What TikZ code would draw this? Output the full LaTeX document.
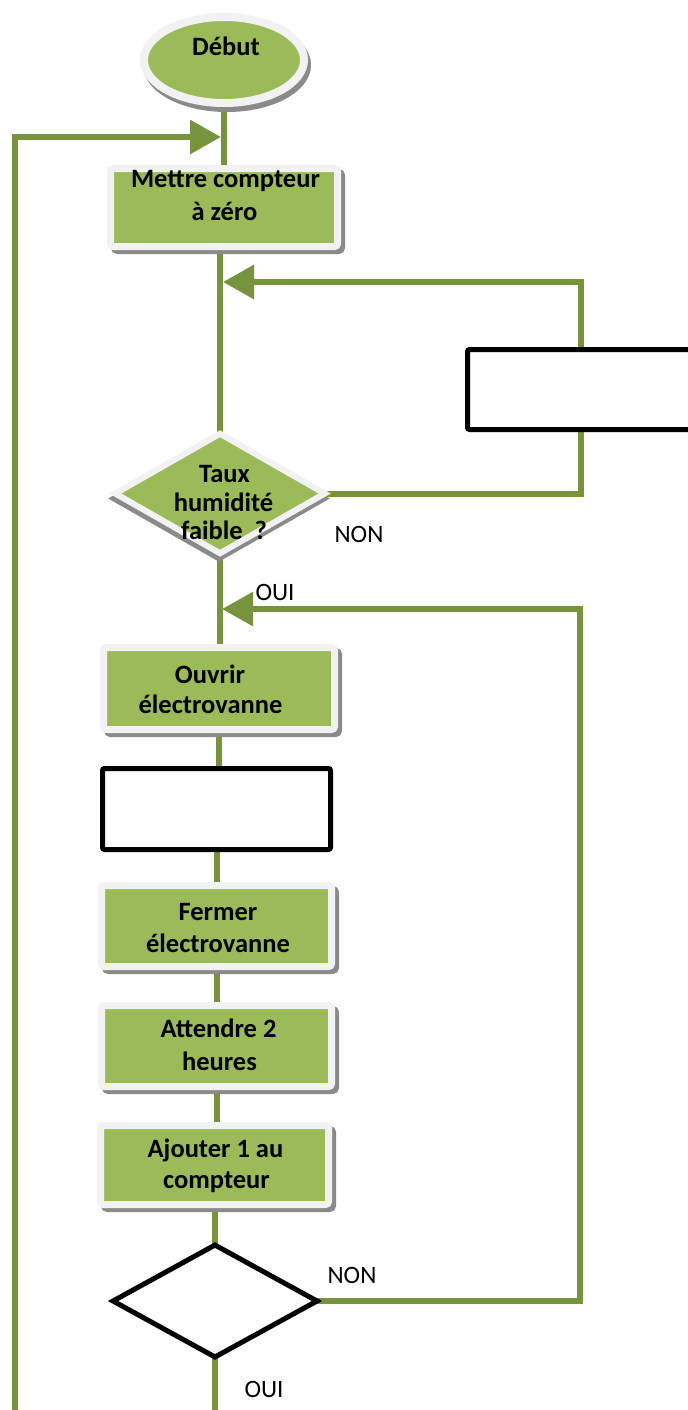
\documentclass[tikz,border=0pt]{standalone}
\usepackage{fontspec}
\setmainfont{Carlito}
\usetikzlibrary{shapes.geometric,arrows.meta,shadows}
\definecolor{leaf}{HTML}{9BBB59}
\definecolor{flowgreen}{HTML}{77933C}
\definecolor{rim}{HTML}{F2F2F2}
\definecolor{shade}{HTML}{8A8A8A}
\pgfdeclarelayer{background}
\pgfsetlayers{background,main}
\begin{document}
\begin{tikzpicture}[x=0.5pt,y=-0.5pt,
  flow/.style={draw=flowgreen, line width=3pt},
  flowarrow/.style={flow, -{Triangle[length=15.5pt,width=16.5pt]}},
  procbox/.style={rectangle, fill=leaf, draw=rim, line width=3.5pt, rounded corners=1.5pt, inner sep=0pt,
    general shadow={fill=shade, draw=shade, line width=3.5pt, shadow xshift=2pt, shadow yshift=-2pt}},
  blankbox/.style={rectangle, fill=white, draw=black, line width=2.5pt, rounded corners=1pt, inner sep=0pt},
  testshape/.style={diamond, fill=leaf, draw=rim, line width=3pt, inner sep=0pt,
    general shadow={fill=shade, draw=shade, line width=3pt, shadow xshift=-0.5pt, shadow yshift=-2.5pt}},
  blanktest/.style={diamond, fill=white, draw=black, line width=2.5pt, inner sep=0pt},
  startshape/.style={ellipse, fill=leaf, draw=rim, line width=4pt, inner sep=0pt,
    general shadow={fill=shade, draw=shade, line width=4pt, shadow xshift=1.5pt, shadow yshift=-2.5pt}},
  txt/.style={font=\fontsize{13.25pt}{16pt}\selectfont\bfseries, anchor=base, inner sep=0pt},
  plain/.style={font=\fontsize{12.5pt}{15pt}\selectfont, anchor=base, inner sep=0pt},
]
\useasboundingbox (0,0) rectangle (688,1410);

% shapes
\node[startshape, minimum width=80pt, minimum height=43pt] (debut) at (224,60) {};
\node[procbox, minimum width=113.5pt, minimum height=39pt] (mettre) at (224,207.5) {};
\node[blankbox, minimum width=126.25pt, minimum height=40pt] (blank0) at (593.75,389.5) {};
\node[testshape, minimum width=106pt, minimum height=61pt] (q1) at (220,493.5) {};
\node[procbox, minimum width=115.5pt, minimum height=41pt] (ouvrir) at (219,688.5) {};
\node[blankbox, minimum width=114pt, minimum height=40.5pt] (blank1) at (216.5,809) {};
\node[procbox, minimum width=115pt, minimum height=40.5pt] (fermer) at (216.5,926) {};
\node[procbox, minimum width=115pt, minimum height=40.5pt] (attendre) at (216.5,1046) {};
\node[procbox, minimum width=114pt, minimum height=39.5pt] (ajouter) at (214.5,1165) {};
\node[blanktest, minimum width=103pt, minimum height=57pt] (q2) at (215,1301) {};

% texts
\node[txt] (tdebut) at (226,55) {Début};
\node[txt] (tmettre1) at (225.5,187) {Mettre compteur};
\node[txt] (tmettre2) at (224.5,220) {à zéro};
\node[txt] (tq1a) at (224.5,482) {Taux};
\node[txt] (tq1b) at (223.5,511) {humidité};
\node[txt] (tq1c) at (224,539) {faible\ \ ?};
\node[txt] (touvrir1) at (210,683) {Ouvrir};
\node[txt] (touvrir2) at (210.5,713) {électrovanne};
\node[txt] (tfermer1) at (218,920) {Fermer};
\node[txt] (tfermer2) at (218,952) {électrovanne};
\node[txt] (tattendre1) at (218.5,1037) {Attendre 2};
\node[txt] (tattendre2) at (219.5,1070) {heures};
\node[txt] (tajouter1) at (215.5,1157) {Ajouter 1 au};
\node[txt] (tajouter2) at (216.5,1188) {compteur};
\node[plain] (non1) at (359,542) {NON};
\node[plain] (oui1) at (275,600) {OUI};
\node[plain] (non2) at (352,1283) {NON};
\node[plain] (oui2) at (264,1397) {OUI};

% free ends of the loops
\coordinate (cornA) at (581,282);
\coordinate (tipA) at (223,282);
\coordinate (cornB) at (580,609);
\coordinate (tipB) at (222,609);
\coordinate (startC) at (15,1430);
\coordinate (cornC) at (15,137);
\coordinate (tipC) at (221,137);
\coordinate (endD) at (213,1430);

\begin{pgfonlayer}{background}
\draw[flow] (debut.center) -- (debut.center |- mettre.center);
\draw[flow] (q1.center |- mettre.center) -- (q1.center);
\draw[flow] (q1.center) -- (q1.center |- ouvrir.center);
\draw[flow] (ouvrir.center) -- (ouvrir.center |- blank1.center);
\draw[flow] (blank1.center) -- (blank1.center |- fermer.center);
\draw[flow] (fermer.center) -- (fermer.center |- attendre.center);
\draw[flow] (attendre.center) -- (attendre.center |- ajouter.center);
\draw[flow] (ajouter.center) -- (ajouter.center |- q2.center);
\draw[flow] (q2.center) -- (q2.center |- endD);
\draw[flowarrow] (q1.center) -| (cornA) -- (tipA);
\draw[flowarrow] (q2.center) -| (cornB) -- (tipB);
\draw[flowarrow] (startC) -- (cornC) -- (tipC);
\end{pgfonlayer}
\end{tikzpicture}
\end{document}
